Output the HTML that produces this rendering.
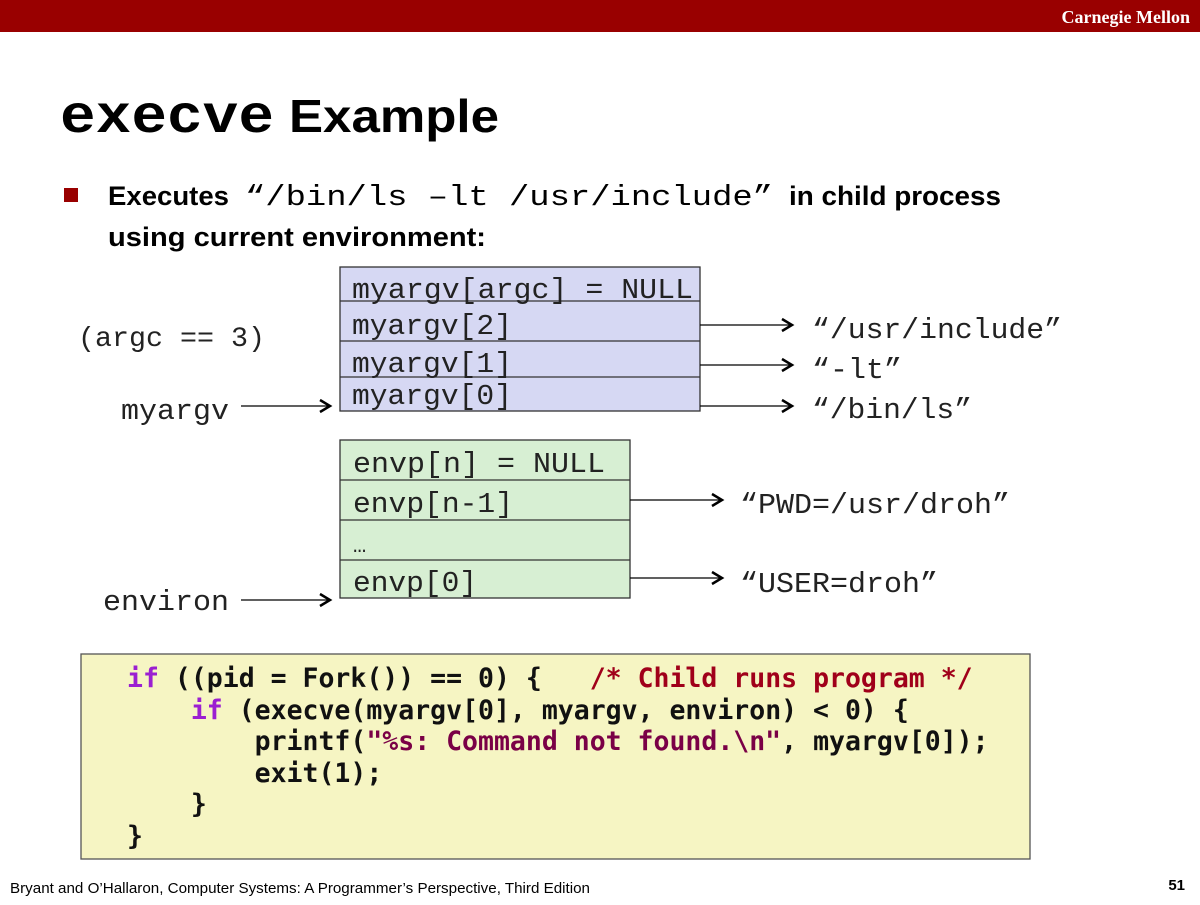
<!DOCTYPE html>
<html><head><meta charset="utf-8"><style>
body{margin:0;width:1200px;height:900px;overflow:hidden;background:#fff;}
.code text{white-space:pre;}
</style></head><body>
<svg width="1200" height="900" xmlns="http://www.w3.org/2000/svg">
<rect x="0" y="0" width="1200" height="32" fill="#990000"/>
<text x="1190" y="23" text-anchor="end" font-family="Liberation Serif" font-weight="bold" font-size="18" fill="#fff">Carnegie Mellon</text>
<text x="60" y="132" font-family="Liberation Mono" font-weight="bold" font-size="54" textLength="214" lengthAdjust="spacingAndGlyphs" fill="#000">execve</text>
<text x="289" y="132" font-family="Liberation Sans" font-weight="bold" font-size="46" textLength="210" lengthAdjust="spacingAndGlyphs" fill="#000">Example</text>
<rect x="64" y="188" width="14" height="14" fill="#990000"/>
<text x="108" y="205" font-family="Liberation Sans" font-weight="bold" font-size="27" textLength="121" lengthAdjust="spacingAndGlyphs" fill="#000">Executes</text>
<text x="245" y="205" font-family="Liberation Mono" font-size="29" textLength="528" lengthAdjust="spacingAndGlyphs" fill="#000">“/bin/ls –lt /usr/include”</text>
<text x="789" y="205" font-family="Liberation Sans" font-weight="bold" font-size="27" textLength="212" lengthAdjust="spacingAndGlyphs" fill="#000">in child process</text>
<text x="108" y="246" font-family="Liberation Sans" font-weight="bold" font-size="27" textLength="378" lengthAdjust="spacingAndGlyphs" fill="#000">using current environment:</text>

<g stroke="#333" stroke-width="1.3">
<rect x="340" y="267" width="360" height="144" fill="#d6d8f3"/>
<line x1="340" y1="301" x2="700" y2="301"/>
<line x1="340" y1="341" x2="700" y2="341"/>
<line x1="340" y1="377" x2="700" y2="377"/>
<rect x="340" y="440" width="290" height="158" fill="#d7efd3"/>
<line x1="340" y1="480" x2="630" y2="480"/>
<line x1="340" y1="520" x2="630" y2="520"/>
<line x1="340" y1="560" x2="630" y2="560"/>
</g>
<g font-family="Liberation Mono" font-size="29" fill="#222">
<text x="352" y="298" textLength="341" lengthAdjust="spacingAndGlyphs">myargv[argc] = NULL</text>
<text x="352" y="334" textLength="160" lengthAdjust="spacingAndGlyphs">myargv[2]</text>
<text x="352" y="372" textLength="160" lengthAdjust="spacingAndGlyphs">myargv[1]</text>
<text x="352" y="404" textLength="160" lengthAdjust="spacingAndGlyphs">myargv[0]</text>
<text x="78" y="346" textLength="187" lengthAdjust="spacingAndGlyphs" font-size="28">(argc == 3)</text>
<text x="121" y="419" textLength="108" lengthAdjust="spacingAndGlyphs">myargv</text>
<text x="103" y="610" textLength="126" lengthAdjust="spacingAndGlyphs">environ</text>
<text x="353" y="472" textLength="252" lengthAdjust="spacingAndGlyphs">envp[n] = NULL</text>
<text x="353" y="512" textLength="160" lengthAdjust="spacingAndGlyphs">envp[n-1]</text>
<text x="353" y="552" font-size="22">…</text>
<text x="353" y="591" textLength="124" lengthAdjust="spacingAndGlyphs">envp[0]</text>
<text x="812" y="338" textLength="250" lengthAdjust="spacingAndGlyphs">“/usr/include”</text>
<text x="812" y="378" textLength="90" lengthAdjust="spacingAndGlyphs">“-lt”</text>
<text x="812" y="418" textLength="160" lengthAdjust="spacingAndGlyphs">“/bin/ls”</text>
<text x="740" y="513" textLength="270" lengthAdjust="spacingAndGlyphs">“PWD=/usr/droh”</text>
<text x="740" y="592" textLength="198" lengthAdjust="spacingAndGlyphs">“USER=droh”</text>
</g>
<g stroke="#000" stroke-width="1.3" fill="none">
<line x1="700" y1="325" x2="790" y2="325"/><path d="M782 319 L792 325 L782 331" stroke-width="2.5"/>
<line x1="700" y1="365" x2="790" y2="365"/><path d="M782 359 L792 365 L782 371" stroke-width="2.5"/>
<line x1="700" y1="406" x2="790" y2="406"/><path d="M782 400 L792 406 L782 412" stroke-width="2.5"/>
<line x1="241" y1="406" x2="328" y2="406"/><path d="M320 400 L330 406 L320 412" stroke-width="2.5"/>
<line x1="241" y1="600" x2="328" y2="600"/><path d="M320 594 L330 600 L320 606" stroke-width="2.5"/>
<line x1="630" y1="500" x2="720" y2="500"/><path d="M712 494 L722 500 L712 506" stroke-width="2.5"/>
<line x1="630" y1="578" x2="720" y2="578"/><path d="M712 572 L722 578 L712 584" stroke-width="2.5"/>
</g>

<rect x="81" y="654" width="949" height="205" fill="#f6f5c3" stroke="#555" stroke-width="1.3"/>
<g class="code" font-family="DejaVu Sans Mono" font-weight="bold" font-size="26.5" fill="#111">
<text x="127" y="687"><tspan fill="#9b1fd1">if</tspan> ((pid = Fork()) == 0) {   <tspan fill="#a0001a">/* Child runs program */</tspan></text>
<text x="127" y="719">    <tspan fill="#9b1fd1">if</tspan> (execve(myargv[0], myargv, environ) &lt; 0) {</text>
<text x="127" y="750">        printf(<tspan fill="#7a0046">"%s: Command not found.\n"</tspan>, myargv[0]);</text>
<text x="127" y="782">        exit(1);</text>
<text x="127" y="813">    }</text>
<text x="127" y="845">}</text>
</g>
<text x="10" y="893" font-family="Liberation Sans" font-size="15" textLength="580" lengthAdjust="spacingAndGlyphs" fill="#000">Bryant and O’Hallaron, Computer Systems: A Programmer’s Perspective, Third Edition</text>
<text x="1185" y="890" text-anchor="end" font-family="Liberation Sans" font-weight="bold" font-size="15" fill="#000">51</text>
</svg>
</body></html>
